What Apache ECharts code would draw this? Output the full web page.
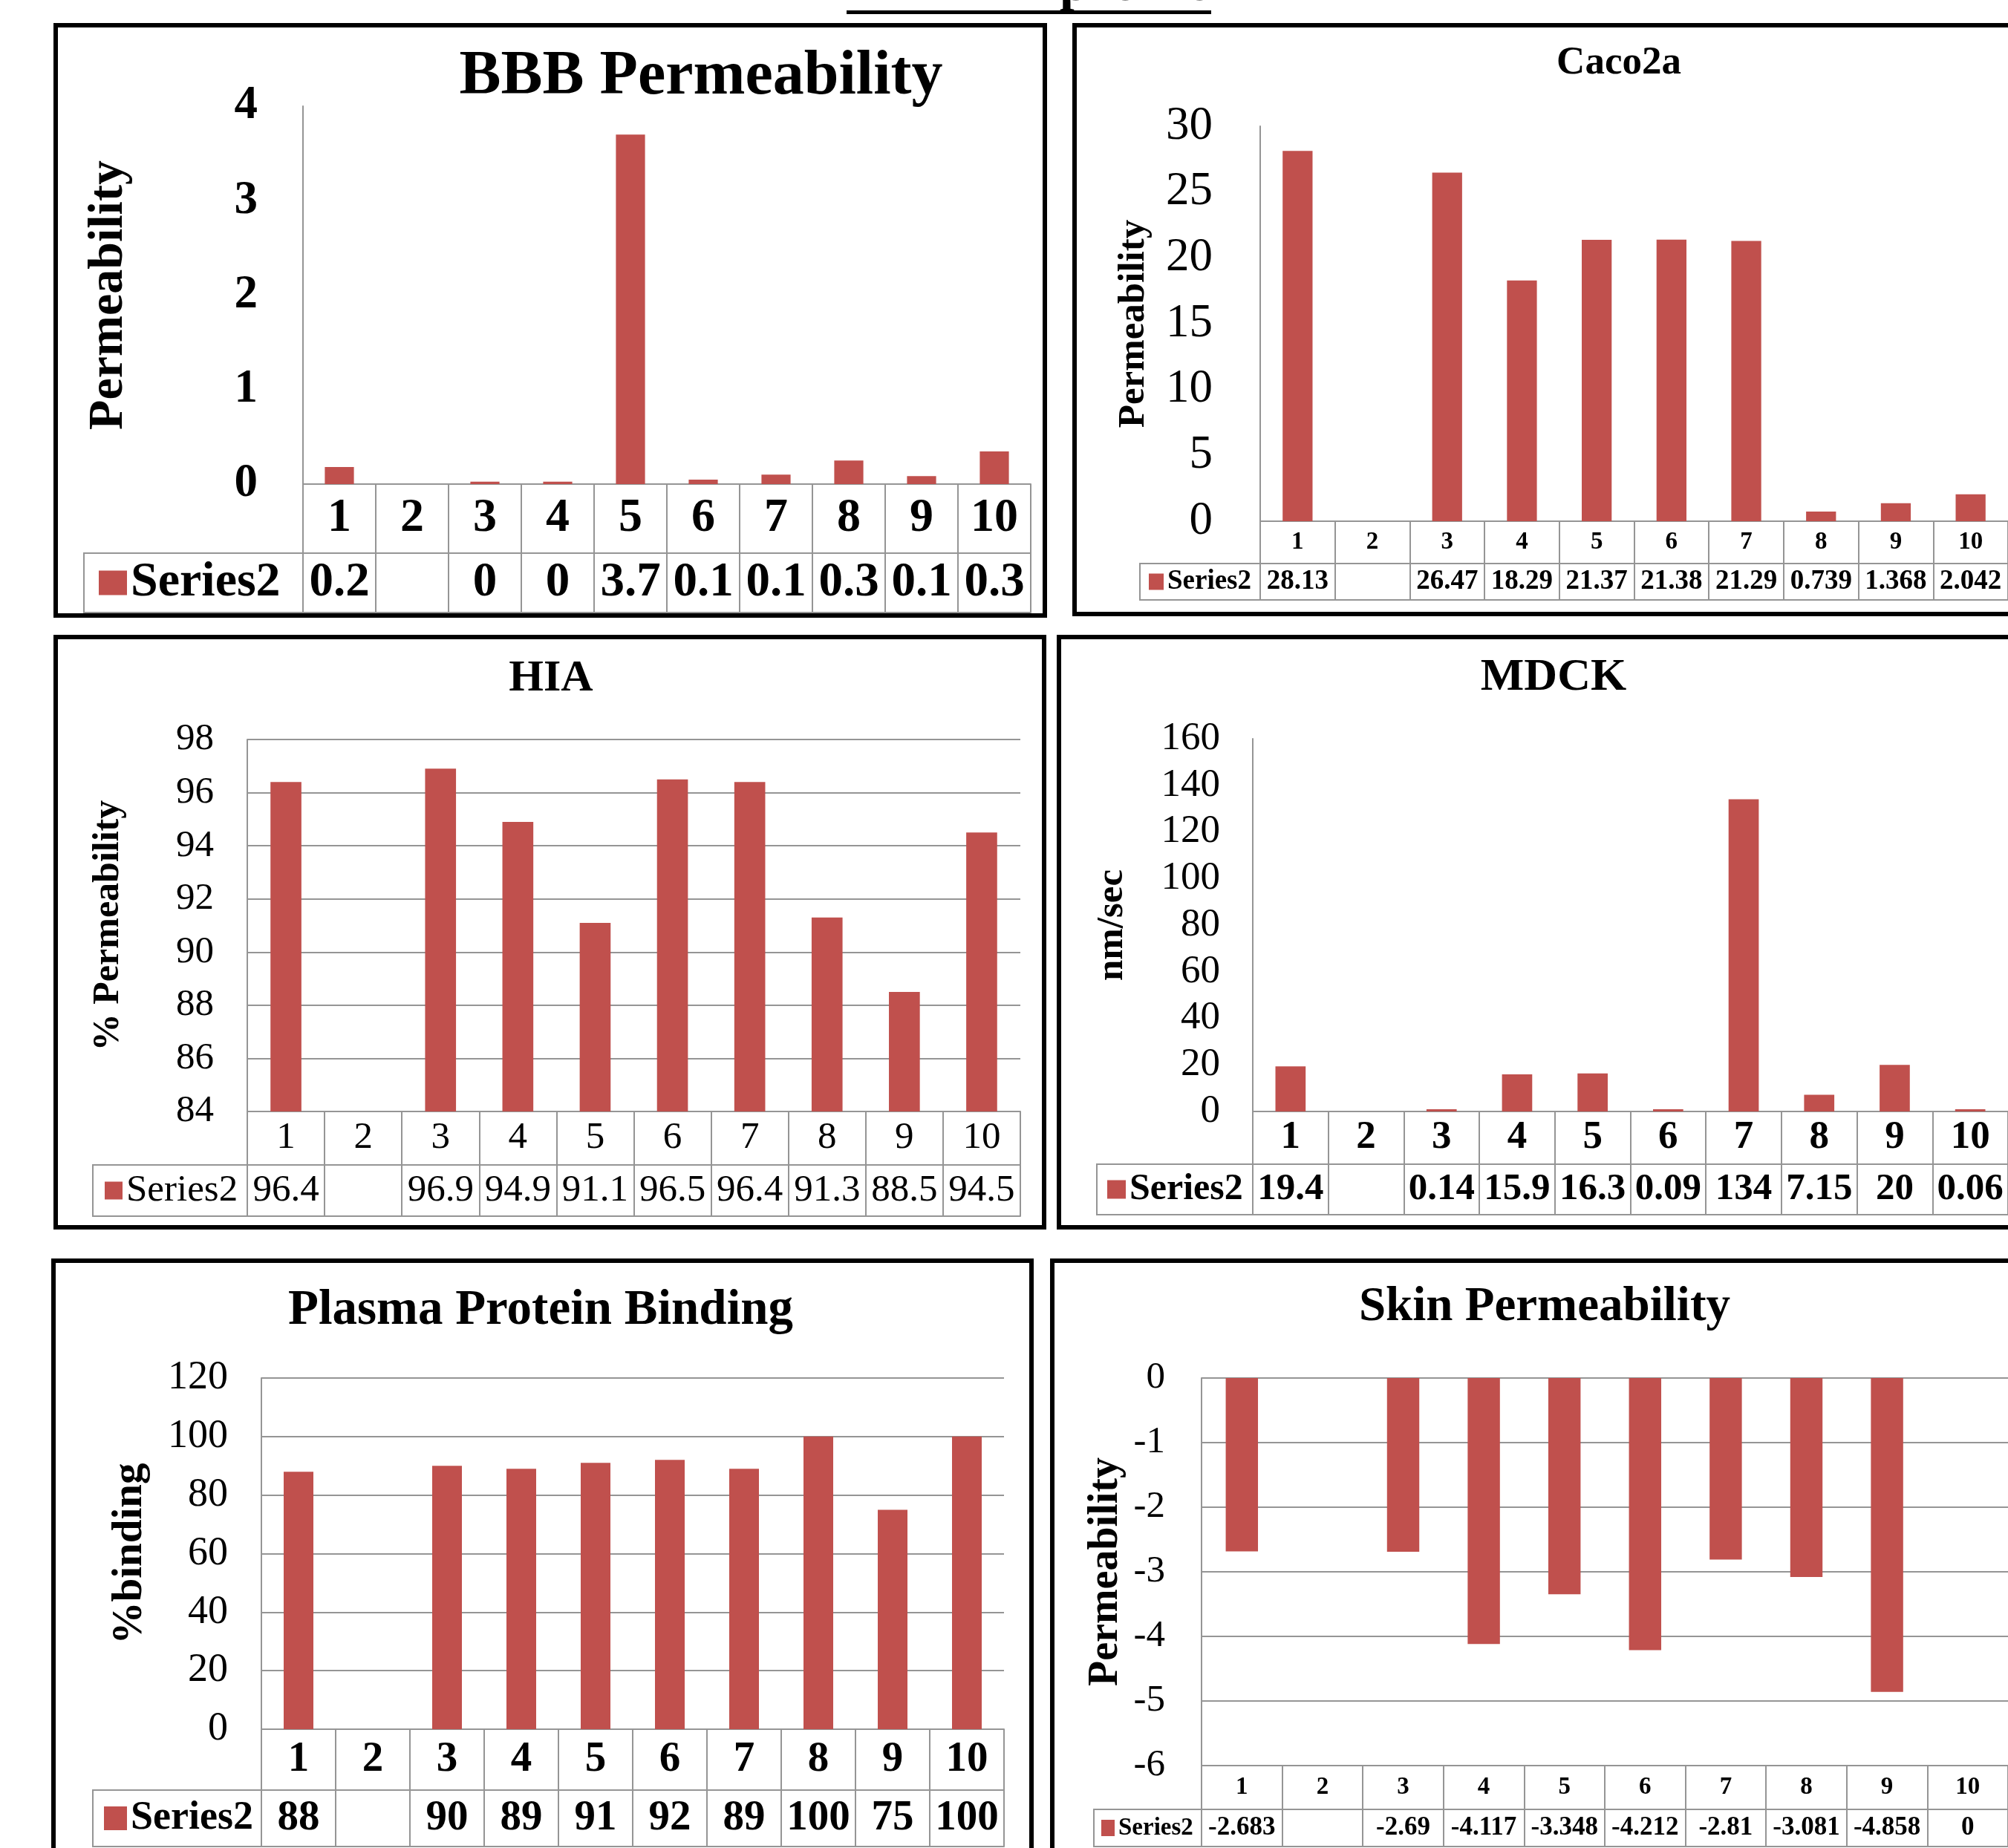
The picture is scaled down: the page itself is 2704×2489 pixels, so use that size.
<!DOCTYPE html>
<html>
<head>
<meta charset="utf-8">
<script src="https://cdn.jsdelivr.net/npm/echarts@6/dist/echarts.min.js"></script>
<style>
html,body{margin:0;padding:0;overflow:hidden;background:#ffffff;}
#chart{width:2704px;height:2489px;}
</style>
</head>
<body>
<div id="chart"></div>
<script>
// ---------------- DATA ----------------
const categories = ['1', '2', '3', '4', '5', '6', '7', '8', '9', '10'];

const bbbValues = [0.18, null, 0.026, 0.026, 3.70, 0.047, 0.10, 0.25, 0.085, 0.345];
const bbbLabels = ['0.2', '', '0', '0', '3.7', '0.1', '0.1', '0.3', '0.1', '0.3'];

const caco2Values = [28.13, null, 26.47, 18.29, 21.37, 21.38, 21.29, 0.739, 1.368, 2.042];
const caco2Labels = ['28.13', '', '26.47', '18.29', '21.37', '21.38', '21.29', '0.739', '1.368', '2.042'];

const hiaValues = [96.4, null, 96.9, 94.9, 91.1, 96.5, 96.4, 91.3, 88.5, 94.5];
const hiaLabels = ['96.4', '', '96.9', '94.9', '91.1', '96.5', '96.4', '91.3', '88.5', '94.5'];

const mdckValues = [19.4, null, 0.14, 15.9, 16.3, 0.09, 134, 7.15, 20, 0.06];
const mdckLabels = ['19.4', '', '0.14', '15.9', '16.3', '0.09', '134', '7.15', '20', '0.06'];

const ppbValues = [88, null, 90, 89, 91, 92, 89, 100, 75, 100];
const ppbLabels = ['88', '', '90', '89', '91', '92', '89', '100', '75', '100'];

const skinValues = [-2.683, null, -2.69, -4.117, -3.348, -4.212, -2.81, -3.081, -4.858, 0];
const skinLabels = ['-2.683', '', '-2.69', '-4.117', '-3.348', '-4.212', '-2.81', '-3.081', '-4.858', '0'];

const seriesName = 'Series2';
const pageHeading = 'ADMET profile';

// ---------------- LAYOUT / STYLE ----------------
const FONT = '"Liberation Serif", "Times New Roman", serif';
const BAR = '#C0504D';
const LINE = '#959595';

const panels = [
  { title: 'BBB Permeability', yName: 'Permeability', values: bbbValues, labels: bbbLabels,
    min: 0, max: 4, interval: 1, split: false, minH: 0,
    box: [72, 31, 1410, 832], axisX: 408, right: 1388, top: 143, bottom: 652, catH: 93, valH: 80,
    cellLeft: 113, key: [133, 38, 33], yMargin: 61, nameGap: 261, titlePos: [944, 104],
    fs: { title: 84, name: 66, y: 63, cat: 64, val: 65, leg: 66 },
    bold: { y: true, cat: true, val: true, leg: true } },
  { title: 'Caco2a', yName: 'Permeability', values: caco2Values, labels: caco2Labels,
    min: 0, max: 30, interval: 5, split: false, minH: 0,
    box: [1444, 31, 2730, 830], axisX: 1697, right: 2722, top: 170, bottom: 702, catH: 57, valH: 49,
    cellLeft: 1535, key: [1547, 20, 22], yMargin: 64, nameGap: 170, titlePos: [2180, 85],
    fs: { title: 53, name: 51, y: 63, cat: 33, val: 37, leg: 37 },
    bold: { y: false, cat: true, val: true, leg: true } },
  { title: 'HIA', yName: '% Permeability', values: hiaValues, labels: hiaLabels,
    min: 84, max: 98, interval: 2, split: true, minH: 0,
    box: [72, 855, 1409, 1656], axisX: 333, right: 1374, top: 996, bottom: 1497, catH: 72, valH: 69,
    cellLeft: 125, key: [141, 24, 24], yMargin: 45, nameGap: 187, titlePos: [742, 914],
    fs: { title: 60, name: 50, y: 51, cat: 51, val: 51, leg: 51 },
    bold: { y: false, cat: false, val: false, leg: false } },
  { title: 'MDCK', yName: 'nm/sec', values: mdckValues, labels: mdckLabels,
    min: 0, max: 160, interval: 20, split: false, minH: 3,
    box: [1423, 855, 2730, 1656], axisX: 1687, right: 2724, top: 995, bottom: 1497, catH: 71, valH: 68,
    cellLeft: 1477, key: [1491, 25, 25], yMargin: 44, nameGap: 189, titlePos: [2092, 913],
    fs: { title: 62, name: 51, y: 53, cat: 53, val: 51, leg: 50 },
    bold: { y: false, cat: true, val: true, leg: true } },
  { title: 'Plasma Protein Binding', yName: '%binding', values: ppbValues, labels: ppbLabels,
    min: 0, max: 120, interval: 20, split: true, minH: 0,
    box: [69, 1695, 1392, 2520], axisX: 352, right: 1352, top: 1856, bottom: 2329, catH: 82, valH: 76,
    cellLeft: 125, key: [140, 31, 32], yMargin: 45, nameGap: 177, titlePos: [728, 1766],
    fs: { title: 67, name: 57, y: 54, cat: 57, val: 57, leg: 54 },
    bold: { y: false, cat: true, val: true, leg: true } },
  { title: 'Skin Permeability', yName: 'Permeability', values: skinValues, labels: skinLabels,
    min: -6, max: 0, interval: 1, split: true, minH: 0,
    box: [1414, 1695, 2730, 2520], axisX: 1618, right: 2712, top: 1856, bottom: 2378, catH: 59, valH: 50,
    cellLeft: 1473, key: [1483, 18, 22], yMargin: 49, nameGap: 128, titlePos: [2080, 1761],
    fs: { title: 65, name: 56, y: 51, cat: 33, val: 35, leg: 33 },
    bold: { y: false, cat: true, val: true, leg: true } }
];

function w(b) { return b ? 'bold' : 'normal'; }

const option = {
  animation: false,
  backgroundColor: '#ffffff',
  grid: [], xAxis: [], yAxis: [], series: [], legend: [],
  graphic: { elements: [] }
};
const G = option.graphic.elements;

// page heading (mostly cropped at the top edge)
G.push({ type: 'text', x: 1385, y: -19, z: 50,
  style: { text: pageHeading, font: 'bold 72px ' + FONT, fill: '#000',
           align: 'center', verticalAlign: 'middle', textAlign: 'center', textVerticalAlign: 'middle' } });
G.push({ type: 'rect', z: 50, shape: { x: 1140, y: 14, width: 491, height: 5 }, style: { fill: '#000' } });

panels.forEach(function (p, i) {
  option.grid.push({ left: p.axisX, top: p.top, width: p.right - p.axisX, height: p.bottom - p.top, containLabel: false });

  option.yAxis.push({
    gridIndex: i, type: 'value', min: p.min, max: p.max, interval: p.interval,
    axisLine: { show: true, lineStyle: { color: LINE, width: 2 } },
    axisTick: { show: false },
    splitLine: { show: p.split, lineStyle: { color: LINE, width: 2 } },
    axisLabel: { margin: p.yMargin, color: '#000', fontFamily: FONT, fontSize: p.fs.y, fontWeight: w(p.bold.y) },
    name: p.yName, nameLocation: 'middle', nameGap: p.nameGap,
    nameTextStyle: { color: '#000', fontFamily: FONT, fontSize: p.fs.name, fontWeight: 'bold',
                     align: 'center', verticalAlign: 'middle' }
  });

  const xi = option.xAxis.length;
  // category row of the data table
  option.xAxis.push({
    gridIndex: i, type: 'category', data: categories, position: 'bottom',
    axisLine: { show: true, onZero: false, lineStyle: { color: LINE, width: 2 } },
    axisTick: { show: true, interval: 0, length: p.catH + p.valH, lineStyle: { color: LINE, width: 2 } },
    axisLabel: { interval: 0, margin: p.catH / 2, verticalAlign: 'middle', color: '#000',
                 fontFamily: FONT, fontSize: p.fs.cat, fontWeight: w(p.bold.cat) },
    splitLine: { show: false }
  });
  // value row of the data table
  option.xAxis.push({
    gridIndex: i, type: 'category', data: categories, position: 'bottom', offset: p.catH,
    axisLine: { show: true, onZero: false, lineStyle: { color: LINE, width: 2 } },
    axisTick: { show: false },
    axisLabel: { interval: 0, margin: p.valH / 2, verticalAlign: 'middle', color: '#000',
                 fontFamily: FONT, fontSize: p.fs.val, fontWeight: w(p.bold.val),
                 formatter: (function (labels) { return function (v, idx) { return labels[idx]; }; })(p.labels) },
    splitLine: { show: false }
  });
  // bottom border of the data table
  option.xAxis.push({
    gridIndex: i, type: 'category', data: categories, position: 'bottom', offset: p.catH + p.valH,
    axisLine: { show: true, onZero: false, lineStyle: { color: LINE, width: 2 } },
    axisTick: { show: false }, axisLabel: { show: false }, splitLine: { show: false }
  });

  option.series.push({
    type: 'bar', name: seriesName, xAxisIndex: xi, yAxisIndex: i, data: p.values,
    barWidth: '40%', barMinHeight: p.minH, itemStyle: { color: BAR }
  });

  const rowTop = p.bottom + p.catH;
  const rowBot = rowTop + p.valH;
  const rowMid = (rowTop + rowBot) / 2;
  option.legend.push({
    left: p.key[0], top: rowMid - Math.max(p.key[2], p.fs.leg) / 2,
    orient: 'horizontal', padding: 0, itemGap: 0, icon: 'rect',
    itemWidth: p.key[1], itemHeight: p.key[2], selectedMode: false,
    data: [seriesName],
    textStyle: { color: '#000', fontFamily: FONT, fontSize: p.fs.leg, fontWeight: w(p.bold.leg), lineHeight: p.fs.leg }
  });

  // left "legend" cell of the table
  G.push({ type: 'polyline', z: 10,
    shape: { points: [[p.axisX, rowTop], [p.cellLeft, rowTop], [p.cellLeft, rowBot], [p.axisX, rowBot]] },
    style: { stroke: LINE, lineWidth: 2, fill: null } });

  // chart title
  G.push({ type: 'text', x: p.titlePos[0], y: p.titlePos[1], z: 20,
    style: { text: p.title, font: 'bold ' + p.fs.title + 'px ' + FONT, fill: '#000',
             align: 'center', verticalAlign: 'middle', textAlign: 'center', textVerticalAlign: 'middle' } });

  // panel frame
  const b = p.box;
  G.push({ type: 'rect', z: 30,
    shape: { x: b[0] + 3, y: b[1] + 3, width: b[2] - b[0] - 6, height: b[3] - b[1] - 6 },
    style: { fill: null, stroke: '#000', lineWidth: 6 } });
});

const chart = echarts.init(document.getElementById('chart'), null, { renderer: 'canvas' });
chart.setOption(option);
</script>
</body>
</html>
